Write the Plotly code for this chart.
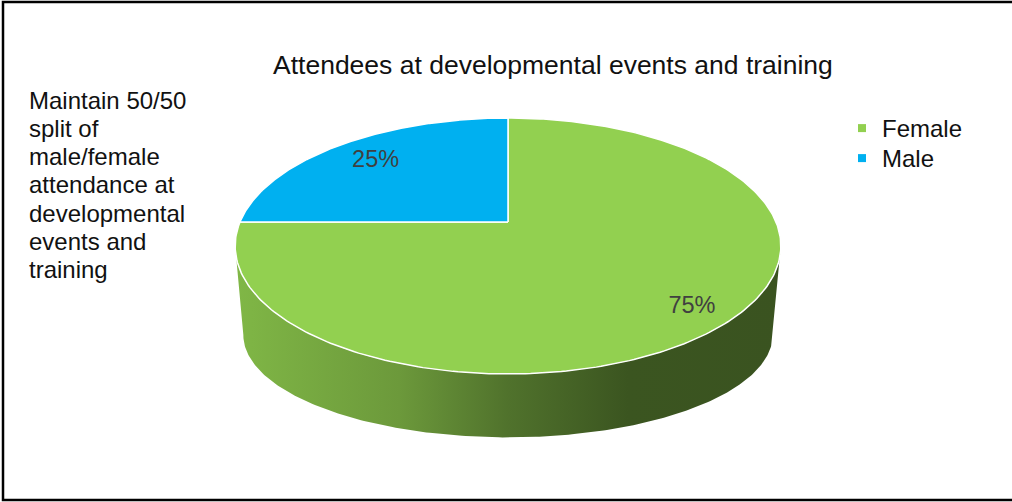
import numpy as np
import plotly.graph_objects as go

# ---------------- data ----------------
categories = ["Female", "Male"]
values = [75, 25]
slice_colors = ["#92D050", "#00B0F0"]
chart_title = "Attendees at developmental events and training"
note_lines = ["Maintain 50/50", "split of", "male/female", "attendance at",
              "developmental", "events and", "training"]

# ---------------- geometry / style ----------------
W, H = 1012, 502
CX, CY = 508, 222          # projected centre of the pie's top face
A, B, K = 268.0, 123.5, 0.1875   # perspective ellipse parameters
SX_BOT, SY_BOT, DY_BOT = 0.97, 0.8, 93.8  # bottom face transform
LABEL_R = [0.86, 0.77]
FONT = "Arial, Liberation Sans, sans-serif"


def top_pt(t, f=1.0):
    s = np.sin(t) * f
    c = np.cos(t) * f
    den = 1 + K * s
    return CX + A * c / den, CY - B * s / den


def bot_pt(t):
    x, y = top_pt(t)
    v = CY - y
    return CX + SX_BOT * (x - CX), CY - (SY_BOT * v - DY_BOT)


def shade(hexcol, f):
    h = hexcol.lstrip("#")
    r, g, b = (int(h[i:i + 2], 16) for i in (0, 2, 4))
    return f"rgb({int(r * f)},{int(g * f)},{int(b * f)})"


total = float(sum(values))
fig = go.Figure()

# slice angle ranges (clockwise from 12 o'clock)
ranges = []
start = np.pi / 2
for v in values:
    span = 2 * np.pi * v / total
    ranges.append((start - span, start))
    start -= span

# visible front arc of the side wall
t_left = -np.pi + np.arcsin(K)
t_right = -np.arcsin(K)
x_min = CX - A / np.sqrt(1 - K * K)
x_max = CX + A / np.sqrt(1 - K * K)

# side walls
for (lo, hi), col in zip(ranges, slice_colors):
    for sh in (-2 * np.pi, 0.0, 2 * np.pi):
        p = max(lo, t_left + sh)
        q = min(hi, t_right + sh)
        if q <= p:
            continue
        ts = np.linspace(p, q, 240)
        xt, yt = top_pt(ts)
        xb, yb = bot_pt(ts[::-1])
        xs = np.concatenate([xt, xb, xt[:1]])
        ys = np.concatenate([yt, yb, yt[:1]])
        fig.add_trace(go.Scatter(
            x=xs, y=ys, mode="lines", fill="toself",
            line=dict(width=0, color=shade(col, 0.5)),
            fillgradient=dict(
                type="horizontal", start=x_min, stop=x_max,
                colorscale=[[0, shade(col, 0.88)], [0.3, shade(col, 0.74)],
                            [0.5, shade(col, 0.55)], [0.72, shade(col, 0.41)],
                            [1, shade(col, 0.40)]]),
            showlegend=False, hoverinfo="skip"))

# top faces
for (lo, hi), col, cat in zip(ranges, slice_colors, categories):
    ts = np.linspace(hi, lo, 300)
    xa, ya = top_pt(ts)
    xs = np.concatenate([[CX], xa, [CX]])
    ys = np.concatenate([[CY], ya, [CY]])
    fig.add_trace(go.Scatter(
        x=xs, y=ys, mode="lines", fill="toself", fillcolor=col,
        line=dict(color="white", width=1.5),
        showlegend=False, hoverinfo="skip", name=cat))

# data labels
for (lo, hi), v, lr in zip(ranges, values, LABEL_R):
    mid = (lo + hi) / 2
    lx, ly = top_pt(mid, lr)
    fig.add_trace(go.Scatter(
        x=[lx], y=[ly], mode="text", text=[f"{v / total * 100:.0f}%"],
        textfont=dict(size=23.5, color="#404040", family=FONT),
        showlegend=False, hoverinfo="skip"))

# legend entries (one legend box per entry for exact spacing)
legend_names = ["legend", "legend2"]
for cat, col, lg in zip(categories, slice_colors, legend_names):
    fig.add_trace(go.Scatter(
        x=[None], y=[None], mode="markers", name=cat, legend=lg,
        marker=dict(symbol="square", size=8, color=col)))

# title and left note
annotations = [dict(x=553, y=65, xref="x", yref="y", text=chart_title,
                    showarrow=False, xanchor="center", yanchor="middle",
                    font=dict(size=26.5, color="#111111", family=FONT))]
for i, line in enumerate(note_lines):
    annotations.append(dict(x=27, y=100 + i * 28.3, xref="x", yref="y",
                            text=line, showarrow=False, xanchor="left",
                            yanchor="middle",
                            font=dict(size=24, color="#111111", family=FONT)))

legend_style = dict(xanchor="left", yanchor="top",
                    font=dict(size=24, color="#111111", family=FONT),
                    bgcolor="rgba(0,0,0,0)", itemwidth=30)

fig.update_layout(
    width=W, height=H, autosize=False,
    margin=dict(l=0, r=0, t=0, b=0),
    paper_bgcolor="white", plot_bgcolor="white",
    xaxis=dict(range=[0, W], visible=False, fixedrange=True),
    yaxis=dict(range=[H, 0], visible=False, fixedrange=True),
    showlegend=True,
    legend=dict(x=842 / W, y=1 - 106 / H, **legend_style),
    legend2=dict(x=842 / W, y=1 - 136 / H, **legend_style),
    annotations=annotations,
    shapes=[dict(type="rect", xref="x", yref="y", x0=3, x1=1030, y0=2, y1=500,
                 line=dict(color="black", width=2.5), layer="above")],
)

fig.write_html("out.html", config={"displayModeBar": False},
               post_script="document.body.style.margin='0';"
                           "document.body.style.overflow='hidden';")
